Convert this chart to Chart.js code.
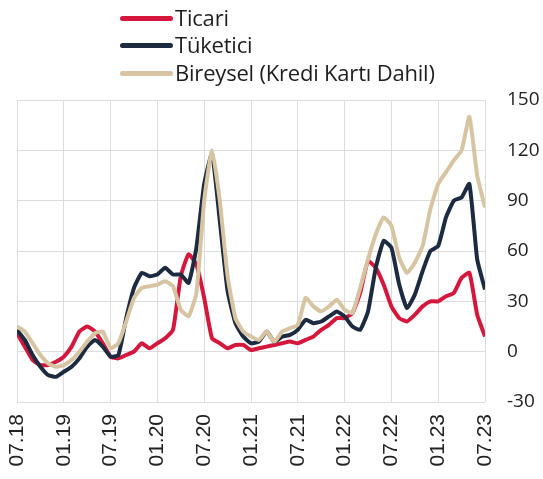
<!DOCTYPE html>
<html>
<head>
<meta charset="utf-8">
<script src="https://cdn.jsdelivr.net/npm/chart.js@4/dist/chart.umd.min.js"></script>
<style>
    body { margin: 0; background: #fff; }
    #wrap { position: relative; width: 543px; height: 479px; }
    #legend { position: absolute; left: 120px; top: 3px; font-family: "Open Sans", sans-serif; font-size: 22px; color: #1e1e1e; }
    .item { height: 27.5px; display: flex; align-items: center; white-space: nowrap; letter-spacing: -0.2px; }
    .swatch { display: inline-block; width: 53px; height: 5px; border-radius: 3px; margin-right: 2px; margin-top: 3px; }
</style>
</head>
<body>
<div id="wrap">
    <canvas id="chart" width="543" height="479"></canvas>
    <div id="legend"></div>
</div>
<script>
// months from 07.18 (index 0) to 07.23 (index 60), one value per month
const tickLabels = ["07.18", "01.19", "07.19", "01.20", "07.20", "01.21", "07.21", "01.22", "07.22", "01.23", "07.23"];
const seriesNames = ["Ticari", "Tüketici", "Bireysel (Kredi Kartı Dahil)"];
const seriesColors = ["#d3173d", "#1d2b40", "#d7c4a2"];

const ticari = [11, 3, -5, -8, -8, -6, -3, 3, 12, 15, 12, 5,
    -3, -4, -2, 0, 5, 2, 5, 8, 13, 45, 58, 52,
    32, 8, 5, 2, 4, 4, 1, 2, 3, 4, 5, 6,
    5, 7, 9, 13, 16, 20, 20, 23, 35, 54, 50, 40,
    27, 20, 18, 22, 27, 30, 30, 33, 35, 44, 47, 22, 9];
const tuketici = [13, 7, -2, -9, -14, -15, -12, -9, -4, 3, 7, 3,
    -3, -2, 20, 38, 47, 45, 46, 50, 46, 46, 41, 62,
    100, 118, 78, 36, 17, 9, 5, 6, 12, 6, 9, 10,
    13, 19, 17, 18, 21, 24, 21, 15, 13, 24, 50, 66,
    62, 40, 26, 34, 48, 60, 63, 80, 90, 92, 100, 55, 37];
const bireysel = [15, 12, 5, -2, -7, -9, -8, -5, 0, 6, 11, 12,
    2, 5, 18, 32, 38, 39, 40, 42, 39, 25, 21, 35,
    90, 120, 90, 45, 20, 12, 9, 7, 12, 6, 12, 14,
    16, 32, 27, 24, 27, 31, 25, 23, 38, 55, 70, 80,
    75, 56, 47, 53, 63, 85, 100, 107, 114, 120, 140, 105, 86];

const allSeries = [ticari, tuketici, bireysel];

// html legend, one row per series
const legend = document.getElementById('legend');
seriesNames.forEach((name, i) => {
    const row = document.createElement('div');
    row.className = 'item';
    row.innerHTML = '<span class="swatch" style="background:' + seriesColors[i] + '"></span>' + name;
    legend.appendChild(row);
});

const ctx = document.getElementById('chart').getContext('2d');
new Chart(ctx, {
    type: 'line',
    data: {
        datasets: allSeries.map((values, i) => ({
            label: seriesNames[i],
            data: values.map((v, m) => ({ x: m, y: v })),
            borderColor: seriesColors[i],
            borderWidth: 4,
            pointRadius: 0,
            tension: 0.15,
            order: 2 - i
        }))
    },
    options: {
        responsive: false,
        animation: false,
        layout: { padding: { left: 17, top: 100, right: 0, bottom: 0 } },
        plugins: {
            legend: { display: false },
            tooltip: { enabled: false }
        },
        scales: {
            x: {
                type: 'linear',
                min: 0,
                max: 60,
                afterFit: (scale) => { scale.height = 77; },
                grid: { color: '#dcdcdc', lineWidth: 1, drawTicks: false },
                border: { display: false },
                ticks: {
                    stepSize: 6,
                    autoSkip: false,
                    minRotation: 90,
                    maxRotation: 90,
                    padding: 12,
                    color: '#222',
                    font: { family: "Liberation Sans", size: 21 },
                    callback: (value) => tickLabels[value / 6]
                }
            },
            y: {
                position: 'right',
                min: -30,
                max: 150,
                afterFit: (scale) => { scale.width = 58; },
                grid: { color: '#dcdcdc', lineWidth: 1, drawTicks: false },
                border: { display: false },
                ticks: {
                    stepSize: 30,
                    padding: 22,
                    color: '#222',
                    font: { family: "Open Sans", size: 19 }
                }
            }
        }
    }
});
</script>
</body>
</html>
